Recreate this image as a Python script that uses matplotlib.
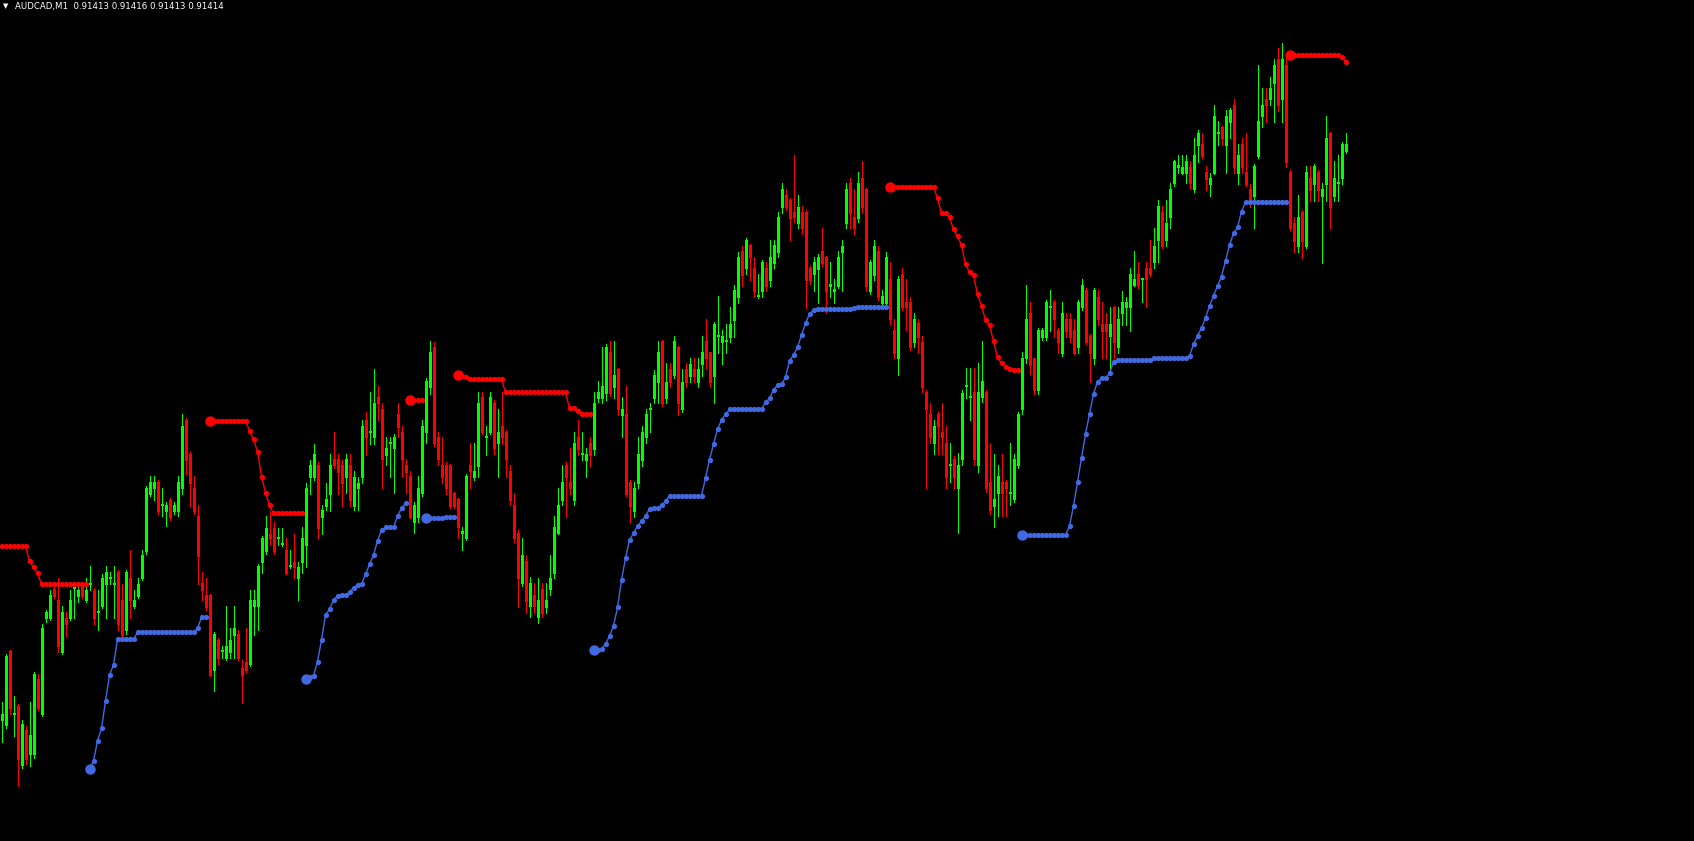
import numpy as np
import matplotlib
matplotlib.use("Agg")
import matplotlib.pyplot as plt

SYMBOL = "AUDCAD,M1"
LAST_BAR = ["0.91413", "0.91416", "0.91413", "0.91414"]

# prices are stored in points (0.00001) above BASE
BASE = 0.91000
POINT = 0.00001

OPEN = [127, 124.5, 161.5, 130, 134, 104.5, 122, 110, 110, 147.5,
        130, 178, 178, 192.5, 187, 161, 178, 178, 193, 189,
        195, 187, 195, 192, 181, 184, 195, 198, 195, 201,
        187, 172, 198, 184, 189, 198, 211.5, 240, 243, 246,
        234.5, 231.5, 237, 231.5, 231.5, 243, 277, 260, 243, 229,
        195.7, 189.5, 189.5, 152, 167, 161.5, 158, 161, 169.5, 170,
        153, 156, 155, 184, 184, 206, 211.5, 220, 223, 218,
        215, 212, 204, 206, 197.8, 206, 214.5, 248.7, 248.7, 254.5,
        228.7, 234, 240, 257.3, 257.3, 254.5, 248.7, 254.5, 234, 242.8,
        248.7, 277, 271, 268.3, 288.7, 282.3, 259.5, 265.3, 262.8, 280,
        271.2, 254.5, 249, 226, 228.7, 240.3, 271.2, 293.7, 313.7, 268.3,
        254.5, 254.5, 254.5, 240.3, 237.3, 220.7, 217.8, 254.5, 248.7, 254,
        288.7, 268.3, 271.2, 285.7, 265.3, 274, 271.2, 251.7, 234.5, 220.3,
        195.3, 206.7, 184, 189.5, 178.3, 192.3, 183.7, 192.3, 200.7, 220.3,
        237, 254.5, 245.8, 237, 268.3, 259.8, 257, 265.3, 262.5, 287.8,
        287.8, 290.7, 311.2, 293.7, 302.3, 279.5, 280, 245.8, 231.7, 245.7,
        257, 268.3, 282.3, 287.8, 296.2, 316.7, 287.8, 302.3, 299.5, 313.7,
        282.3, 302.3, 299, 302.3, 296.2, 305, 316.5, 310.8, 299, 319,
        316.2, 316.5, 318.7, 327, 338.7, 361.5, 352.8, 364.5, 352.8, 339,
        341.5, 352.8, 347, 355.3, 361.2, 383.7, 389.5, 387, 381.2, 375.3,
        381.2, 381.2, 352.8, 349.8, 352.3, 361.5, 358.7, 344.2, 341.7, 344.2,
        361.2, 375.3, 395.3, 378.7, 377.8, 397.8, 392.3, 341.5, 349.5, 361.5,
        335.7, 335.7, 347.5, 322, 307.8, 350, 336.2, 336.2, 316.2, 325.3,
        316.2, 291.2, 280, 265.3, 280, 271.2, 265.3, 254.5, 257.3, 242.8,
        257.3, 294, 288.3, 291.2, 254.5, 288.3, 291.2, 246.2, 234, 240.3,
        246.2, 246.2, 240.3, 237.3, 254.5, 282.3, 307.8, 330.3, 307.8, 292,
        318.7, 318.7, 333.3, 336.2, 322, 310.7, 327.3, 327.3, 322, 313.3,
        333.3, 342, 319, 307.8, 338.7, 325, 325, 319, 333.3, 313.3,
        330.3, 333.3, 333.3, 344.5, 350, 347.3, 352.8, 352.8, 355.8, 367,
        381.2, 367, 378.3, 395.3, 403.7, 400.7, 400.7, 403.7, 392.3, 414.5,
        415, 401.2, 395, 400.7, 420.3, 423.3, 414.5, 426, 434.5, 400.7,
        415, 401.2, 392.3, 389.2, 409, 429, 437.3, 437.3, 445.7, 457.3,
        437.3, 454.5, 401.2, 375.3, 364, 381.2, 364, 397.8, 395, 401.2,
        389.2, 395, 420.7, 389.2, 395.3, 397.8, 411.7]

HIGH = [136, 160, 162, 139, 135, 127, 124, 136, 151, 150,
        175, 182, 192, 196, 198, 184, 181, 192, 194.5, 194,
        196, 198, 204, 193, 192, 200, 204, 201, 204, 202,
        195, 202, 212, 192, 198, 212, 244, 249, 249, 247,
        243, 236, 238, 236, 249, 280, 278, 261, 249, 234.5,
        201, 198, 190, 171, 168, 164, 184, 173, 184, 172,
        157, 173, 192, 192, 205, 219, 229, 231.7, 226, 223,
        223, 218, 212, 220, 206, 223.7, 245.7, 257, 265, 256,
        234.5, 245.7, 260, 271, 260, 257, 260, 260, 251.7, 248.7,
        277, 281, 291, 302.3, 294, 285.7, 268.3, 268.3, 270, 285.3,
        274, 257.3, 251.7, 236, 249, 277, 298, 316.7, 316, 271.2,
        268.3, 256, 255, 241, 238, 223.3, 250, 265.3, 265.3, 291.2,
        291.2, 274, 291.2, 287, 282.3, 291.2, 272, 254.5, 240.3, 222,
        217.8, 209.5, 198.3, 195.3, 197.8, 195.3, 195.3, 209.5, 229, 242.8,
        254.5, 256, 262.8, 271.2, 277, 271.2, 262.8, 268.3, 291.2, 296.7,
        313.7, 315, 316.7, 316.7, 303, 288.3, 294, 247, 245.8, 268.3,
        274, 282.5, 285.3, 302, 316.7, 317, 305.3, 305.3, 319, 314,
        302.3, 305.3, 307.8, 307.8, 307.8, 319, 327.3, 311, 326, 339,
        322, 325, 333.7, 344.5, 361.2, 364, 368, 365, 358.7, 349.8,
        357, 355.8, 367, 367, 381.2, 395.3, 392.3, 388, 409.5, 389.5,
        384, 382, 354, 358.7, 360, 372.8, 359, 355.8, 347.3, 361.5,
        367, 395.3, 398.2, 392.3, 401.2, 406.5, 393, 357, 367, 364.2,
        342, 361.2, 355.8, 327.3, 349, 352.8, 347.5, 338.7, 330.3, 327.3,
        319, 292, 285.3, 277, 281, 285.7, 274, 265.7, 259, 260.3,
        292, 302.8, 302.8, 302.8, 305.3, 316.7, 292, 265.7, 260, 254.5,
        260, 247, 265.7, 260, 281, 311.2, 344.5, 336.2, 308, 323,
        323, 337, 342, 337, 323, 336.2, 330.3, 330.3, 327.3, 337,
        347.3, 343, 320, 343, 342, 336.2, 330.3, 333.3, 334, 333.3,
        341.7, 338.7, 352.8, 361.5, 355.8, 348, 355.8, 367, 372.8, 387,
        384, 387, 395.3, 407, 409.5, 409.5, 409.5, 406.5, 417.8, 422,
        420.7, 404, 400.7, 434.5, 426.7, 424, 432, 433, 437.3, 415,
        417.8, 420.7, 395, 405, 454.5, 442.8, 442.8, 448.7, 457.3, 462.8,
        465.3, 457.3, 402, 378.3, 389.5, 382, 404, 404, 405, 402,
        395.3, 429, 421, 406.7, 409.5, 416, 420.7]

LOW = [116, 123, 130, 119, 94, 103, 105, 104, 108, 132,
       129, 176, 177, 188, 161, 160, 169, 177, 178, 186,
       188, 186, 192, 175, 172, 183, 178, 195, 178, 172,
       168, 170, 178, 183, 188, 197, 210, 239, 237, 230,
       229, 224, 227, 230, 229, 240, 250, 234, 230, 195,
       187, 182, 149, 141.7, 155, 158, 157, 158, 158, 157,
       135.7, 151, 154, 169.5, 172, 200.7, 210, 214.5, 210, 214.5,
       214, 200, 203, 198, 187, 200.7, 203.7, 240, 247, 218,
       220, 232, 231.7, 253, 240, 234, 240.3, 234, 232, 232,
       245.7, 259.5, 265, 265, 277, 243, 254.5, 248.7, 240.3, 268.3,
       248.7, 240.3, 228, 220.3, 226, 239, 265.3, 290, 264, 254.5,
       245.7, 240, 233, 233, 217.8, 212, 217, 242.8, 247, 248.7,
       270, 259.5, 270, 260, 248.7, 265, 248.7, 234.5, 216, 183.7,
       194, 180.7, 178.3, 180.7, 175.3, 178.3, 180.3, 189.5, 197.8, 220,
       234.5, 228.7, 240, 234.5, 259.5, 257, 248.7, 254.2, 259.5, 286,
       285.3, 287, 289, 287.8, 279.5, 268.3, 239, 226.2, 228.7, 242.8,
       254.2, 265.3, 271.2, 285.3, 285.3, 284, 285.3, 293.7, 298, 279.5,
       281, 293.3, 296.2, 296.2, 293.3, 299, 302.3, 293.7, 285.3, 310.7,
       305, 310.7, 316.2, 318.7, 335.7, 344.2, 349.8, 347, 338.7, 338,
       338.7, 341.5, 344.2, 352.8, 358.3, 380.7, 382, 367, 376.2, 372.8,
       369.8, 332.8, 345, 341.5, 335.7, 354, 330.3, 338.7, 335.7, 343,
       341.5, 372.8, 372.8, 370, 376, 380.3, 341.5, 340, 347, 337,
       333.3, 334, 324.5, 307.8, 299.5, 332, 322, 312, 313.7, 310.7,
       291.2, 242.8, 265.7, 260, 260, 260, 242.8, 245.8, 242.8, 220.3,
       254.5, 287.8, 277, 254.5, 251.2, 286, 241, 230, 223.7, 229,
       229, 229, 234.5, 236, 253, 280, 305.3, 300, 290, 290,
       317, 317, 321.7, 318.7, 310.7, 309, 318.7, 316.2, 310, 310.7,
       332, 315, 296.2, 305, 324.5, 307.8, 307.8, 302.3, 307.8, 310.7,
       324.5, 324.5, 321.7, 344, 343, 336.2, 333.3, 349, 352.8, 355.8,
       363, 364.2, 372.8, 394, 400.7, 400, 395.3, 392.3, 391, 406.2,
       408, 392, 389.2, 400, 414.5, 414.5, 400.7, 417.8, 400.7, 395,
       400.7, 394, 383.7, 372.8, 408, 423.3, 426.2, 434.5, 426.2, 431.7,
       426.2, 403.7, 372, 361.2, 361.2, 358.2, 363, 386.7, 386.7, 386.7,
       355.7, 386.7, 372.8, 386.7, 386.7, 395, 410.7]

CLOSE = [130, 159, 133, 130, 107.5, 125, 107.5, 119.5, 150, 133,
         173, 181, 189.5, 189, 164, 181, 175, 187, 193, 192,
         189, 192, 195, 178, 181, 198, 201, 198, 195, 175,
         169.5, 201, 187, 187, 195, 209.5, 243, 246, 246, 231.5,
         234.5, 234.5, 228.5, 234.5, 246, 274, 257, 245.7, 231.5, 209,
         192, 183.7, 149.5, 170, 158, 161.5, 164, 167, 173, 158,
         149.5, 152, 187, 187, 204, 218, 223, 218, 211.5, 218,
         215, 200.7, 204, 203.7, 203.7, 218, 243, 254.5, 260, 223,
         232, 237.7, 254.5, 254.5, 251, 245.7, 257.3, 237, 248.7, 245.7,
         274, 268.3, 271.2, 285.7, 285.3, 257.3, 262.8, 265.3, 268.3, 273.7,
         257.3, 251.2, 228.7, 234.5, 242.8, 274, 296.7, 311.2, 265.3, 257.3,
         248.7, 242.8, 234, 234, 223.3, 220.7, 249, 251.7, 251.7, 285.7,
         271.2, 268.3, 288.7, 262.8, 271.2, 268.3, 257.3, 237, 217.8, 197.8,
         209.5, 186.7, 195.3, 184, 187, 180.7, 187, 197.8, 223.7, 234.5,
         245.8, 248.7, 242.8, 265.3, 262.5, 259.8, 260, 259.5, 285.3, 291.2,
         294, 313.7, 290.7, 299.5, 282.3, 282.5, 240, 234.2, 242.8, 260,
         271.2, 280, 282.3, 299.5, 311.2, 285.3, 296.2, 296.2, 316.7, 285.3,
         296.2, 296.2, 305, 299, 302.3, 310.8, 307.8, 296.2, 325, 319,
         319, 316.5, 325, 342, 358.7, 349.5, 367, 358.3, 341.5, 339,
         355.8, 344.2, 358.7, 364.5, 378.3, 392.3, 383.7, 378.2, 378.3, 383.7,
         372.8, 347, 347, 355.8, 358.7, 355.7, 341.5, 344.2, 341.7, 358.7,
         364.2, 392.3, 380.7, 372.8, 395.3, 383.7, 344, 355.8, 364.2, 338.7,
         339, 358.3, 327.3, 310.7, 347.5, 333.3, 333.3, 313.7, 327.3, 318.7,
         293.7, 282.3, 268.3, 274, 274, 268.3, 248.7, 254.5, 248.7, 254.5,
         290.7, 294, 288.3, 257.3, 291.2, 296.7, 242.8, 232, 237.3, 249,
         240.3, 242.8, 240.3, 257.3, 280, 307.8, 327.3, 304.5, 292, 322,
         322, 336.2, 333.3, 327.3, 316.2, 330.3, 321.7, 318.7, 310.7, 336.2,
         344.5, 316.2, 310.7, 342, 327.3, 321.7, 321.7, 325, 316.2, 327.3,
         336.2, 336.2, 350, 347.3, 344.5, 347.3, 347.3, 350, 364.2, 384,
         364.2, 375.3, 392.3, 406.5, 403.7, 403.7, 406.5, 395.3, 409.5, 420.7,
         409, 397.3, 397.8, 429, 420.3, 417.8, 429, 432, 403.7, 409.5,
         403.7, 395, 386.7, 404, 426.7, 434.5, 434.5, 442.8, 454.5, 434.5,
         457.3, 406.2, 372.8, 366.7, 378.3, 366.7, 401.2, 392, 404, 392,
         392.3, 417.8, 383.7, 397.8, 395.3, 415, 415]

# trailing stop: first bar index of each run and its levels (points)
RED_START = [0, 52, 102, 114, 222, 322]
RED_LEVELS = [
    [214, 214, 214, 214, 214, 214, 214, 206.5, 203.3, 200.3,
     195, 195, 195, 195, 195, 195, 195, 195, 195, 195, 195, 195],
    [276.7] * 10 + [271.7, 267.3, 261.2, 248.7, 240.7, 234.3] + [230.3] * 8,
    [286.8, 286.8, 286.8, 286.8],
    [299.3, 299, 298.7] + [297.3] * 9 + [290.8] * 16
    + [282.8, 282.8, 281.5, 279.8, 279.8, 279.8],
    [393.7] * 12 + [387.8, 380.3, 380.3, 378.3, 372.3, 369, 364.3, 354.8,
                    350.8, 349.3, 339.8, 334, 327, 324.3, 316.5, 308.3,
                    305.3, 303.3, 302.7, 302, 302],
    [459.5] * 13 + [458.7, 456.2],
]
BLUE_START = [22, 76, 106, 148, 255]
BLUE_LEVELS = [
    [102.3, 106.5, 116.5, 122.8, 136.5, 149.5, 154.5] + [167.3] * 5
    + [170.8] * 15 + [172.8, 178.3, 178.3],
    [147.3, 148.5, 149, 156.2, 167, 179.5, 182.3, 187, 189, 189.5,
     189.5, 190.8, 193.2, 194.5, 195, 199.8, 204.8, 209.5, 216.5, 222,
     223.3, 223.3, 223.3, 229, 232.8, 235.3],
    [227.8, 228, 228, 228, 228, 228.3, 228.3, 228.3],
    [162, 162, 162.5, 165, 169, 174, 183.3, 197, 207.8, 217,
     220.3, 224, 226.3, 229, 232.5, 232.8, 232.8, 234.3, 236.5]
    + [239] * 9 + [248, 257, 265, 272.3, 277, 279.8] + [282.3] * 9
    + [285.8, 287.8, 292, 294.5, 294.8, 298.3, 306.5, 309.5, 313.3,
       319.5, 325.3, 330, 332] + [332.3] * 9 + [333] + [333.3] * 8,
    [219.5] * 12 + [224, 234, 246, 258, 270, 280, 290]
    + [296.2, 297.8, 297.8, 300.3, 306.2] + [307] * 9 + [307.8] * 9
    + [309, 314.8, 319, 323, 328, 334, 339, 344, 348.7, 356.5,
       364.5, 370.3, 373.3, 381.2] + [385.8] * 11,
]

BULL = "#00ff00"
BEAR = "#ff0000"
STOP_UP = "#ff0000"
STOP_DN = "#4169e1"

PX = 0.72  # one pixel in points at 100 dpi


def to_price(vals):
    return BASE + np.asarray(vals, dtype=float) * POINT


o, h, l, c = to_price(OPEN), to_price(HIGH), to_price(LOW), to_price(CLOSE)
x = np.arange(len(o))
up = c >= o

fig = plt.figure(figsize=(16.94, 8.41), dpi=100, facecolor="black")
ax = fig.add_axes([0, 0, 1, 1])
ax.set_facecolor("black")
ax.set_axis_off()

body_lo = np.minimum(o, c)
body_hi = np.maximum(np.maximum(o, c), body_lo + 0.6 * POINT)
for mask, col in ((up, BULL), (~up, BEAR)):
    ax.vlines(x[mask], l[mask], h[mask], color=col, lw=PX,
              antialiased=False, zorder=1)
    ax.vlines(x[mask], body_lo[mask], body_hi[mask], color=col, lw=3 * PX,
              capstyle="butt", antialiased=False, zorder=2)

for starts, levels, col in ((RED_START, RED_LEVELS, STOP_UP),
                            (BLUE_START, BLUE_LEVELS, STOP_DN)):
    for s, lv in zip(starts, levels):
        xs = np.arange(s, s + len(lv))
        ys = to_price(lv)
        ax.plot(xs, ys, color=col, lw=1.0, marker="o", ms=3.8, mew=0, zorder=3)
        if s > 0:
            ax.plot(xs[0], ys[0], "o", color=col, ms=7.5, mew=0, zorder=4)

ax.set_xlim(-0.375, 423.125)
ax.set_ylim(BASE + 66.5 * POINT, BASE + 487 * POINT)

fig.text(3 / 1694, 1 - 6 / 841, "\u25bc", color="white", fontsize=5,
         va="center", ha="left", family="DejaVu Sans")
fig.text(15 / 1694, 1 - 6 / 841, SYMBOL + "  " + " ".join(LAST_BAR),
         color="white", fontsize=6.2, va="center", ha="left", family="DejaVu Sans")

fig.savefig("out.png", dpi=100, facecolor="black")
